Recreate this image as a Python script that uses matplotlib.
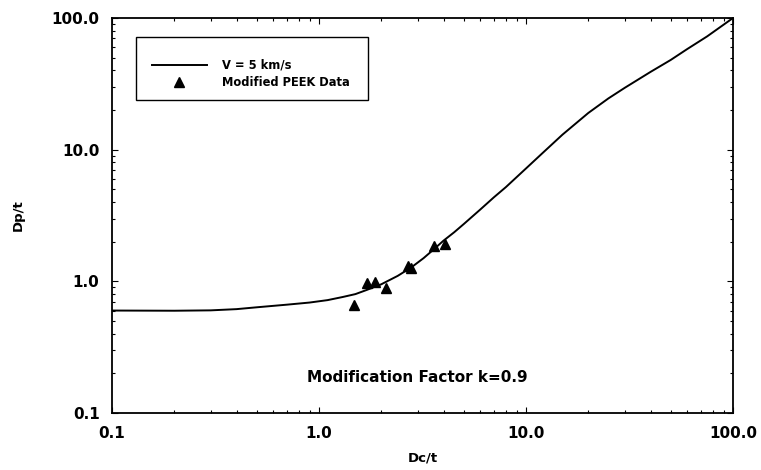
import numpy as np
import matplotlib.pyplot as plt
from matplotlib.patches import Rectangle
from matplotlib.ticker import FixedLocator, FormatStrFormatter, LogLocator

# Model curve, V = 5 km/s
curve_dc = [0.1, 0.2, 0.3, 0.4, 0.5, 0.7, 0.9, 1.1, 1.3, 1.5, 1.7, 2.0, 2.4,
            2.8, 3.2, 3.6, 4.0, 4.5, 5.0, 6.0, 7.0, 8.0, 10.0, 12.0, 15.0,
            20.0, 25.0, 30.0, 40.0, 50.0, 60.0, 75.0, 100.0]
curve_dp = [0.60, 0.598, 0.602, 0.615, 0.635, 0.665, 0.69, 0.72, 0.76, 0.80,
            0.86, 0.95, 1.10, 1.28, 1.50, 1.76, 2.04, 2.36, 2.72, 3.5, 4.35,
            5.2, 7.2, 9.4, 13.0, 19.0, 24.5, 29.5, 39.0, 48.0, 58.0, 72.5,
            100.0]

# Modified PEEK test data
peek_dc = [1.48, 1.71, 1.86, 2.10, 2.68, 2.78, 3.61, 4.05]
peek_dp = [0.66, 0.97, 0.98, 0.89, 1.30, 1.26, 1.85, 1.93]

ticks = [0.1, 1.0, 10.0, 100.0]

plt.rcParams['font.family'] = ['DejaVu Sans']
plt.rcParams['font.weight'] = 'bold'

fig = plt.figure(figsize=(7.61, 4.70), dpi=100)
ax = fig.add_axes([112 / 761, 57 / 470, 621 / 761, 395 / 470])

ax.plot(curve_dc, curve_dp, '-', color='black', lw=1.4, label='V = 5 km/s')
ax.plot(peek_dc, peek_dp, '^', color='black', ms=7, ls='none',
        label='Modified PEEK Data')

ax.set_xscale('log')
ax.set_yscale('log')
ax.set_xlim(0.1, 100)
ax.set_ylim(0.1, 100)

for axis in (ax.xaxis, ax.yaxis):
    axis.set_major_locator(FixedLocator(ticks))
    axis.set_major_formatter(FormatStrFormatter('%.1f'))
    axis.set_minor_locator(LogLocator(base=10, subs=np.arange(2, 10)))

ax.tick_params(which='both', direction='in', top=True, right=True,
               labelsize=11, width=0.8)
ax.tick_params(which='major', length=4)
ax.tick_params(which='minor', length=2)
ax.tick_params(axis='x', pad=9)
ax.tick_params(axis='y', pad=9)
for lab in ax.get_xticklabels() + ax.get_yticklabels():
    lab.set_fontweight('bold')
for sp in ax.spines.values():
    sp.set_linewidth(1.3)

ax.set_xlabel('Dc/t', fontsize=9.5, fontweight='bold', labelpad=8)
ax.set_ylabel('Dp/t', fontsize=9.5, fontweight='bold')
ax.yaxis.set_label_coords(-0.14, 0.5)

# legend box
ax.add_patch(Rectangle((0.0386, 0.792), 0.374, 0.16, transform=ax.transAxes,
                       fill=False, edgecolor='black', lw=1.0, zorder=3))
ax.legend(loc='upper left', bbox_to_anchor=(0.065, 0.897), frameon=False,
          prop={'size': 8.3, 'weight': 'bold'}, handlelength=4.7,
          handletextpad=1.3, labelspacing=0.35, borderpad=0,
          borderaxespad=0)

ax.text(0.492, 0.09, 'Modification Factor k=0.9', transform=ax.transAxes,
        ha='center', va='center', fontsize=11, fontweight='bold')

fig.savefig('out.png', dpi=100)
